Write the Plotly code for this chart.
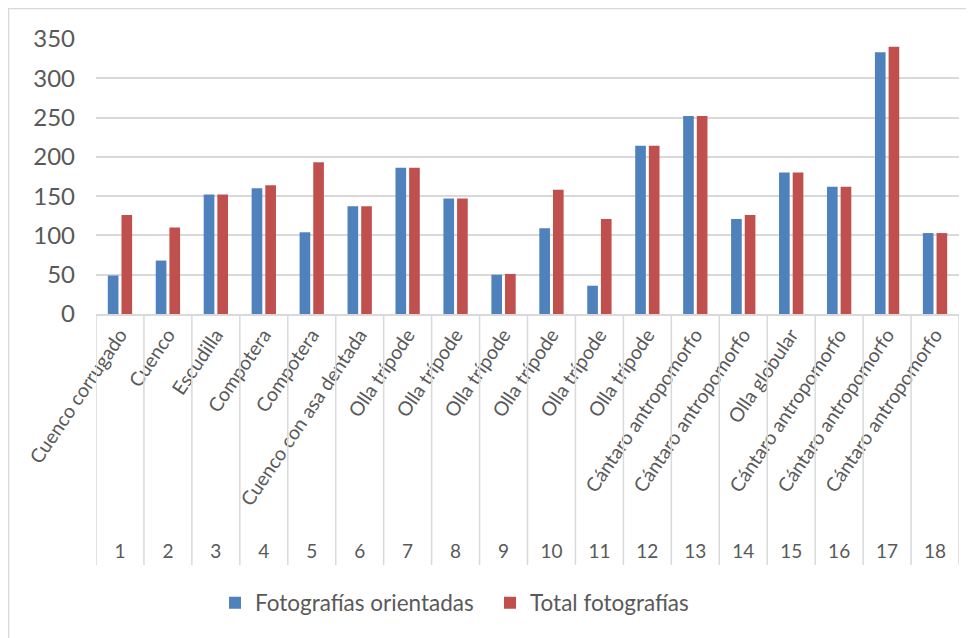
import plotly.graph_objects as go

# data
numeros = [str(i) for i in range(1, 19)]
piezas = [
    "Cuenco corrugado", "Cuenco", "Escudilla", "Compotera", "Compotera",
    "Cuenco con asa dentada", "Olla trípode", "Olla trípode", "Olla trípode",
    "Olla trípode", "Olla trípode", "Olla trípode", "Cántaro antropomorfo",
    "Cántaro antropomorfo", "Olla globular", "Cántaro antropomorfo",
    "Cántaro antropomorfo", "Cántaro antropomorfo",
]
orientadas = [49, 68, 152, 160, 104, 137, 186, 147, 50, 109, 36, 214, 252, 121, 180, 162, 333, 103]
total = [126, 110, 152, 164, 193, 137, 186, 147, 51, 158, 121, 214, 252, 126, 180, 162, 340, 103]

# the page body adds an 8px offset, so the figure is sized/laid out in figure pixels
W, H = 966, 630
L, R, T, B = 88, 15, 31, 73          # paper spans the plot + the category cells
AXIS_Y = 306                          # pixel row of the value-axis zero line
pw, ph = W - L - R, H - T - B


def px_x(x):
    return (x - L) / pw


def px_y(y):
    return (H - B - y) / ph


dom_low = px_y(AXIS_Y)
gris = "#d9d9d9"
texto = "#595959"
fuente = "Lato"

fig = go.Figure()
fig.add_trace(go.Bar(x=numeros, y=orientadas, name="Fotografías orientadas",
                     marker=dict(color="#4f81bd", line=dict(width=0))))
fig.add_trace(go.Bar(x=numeros, y=total, name="Total fotografías",
                     marker=dict(color="#c0504d", line=dict(width=0))))
# invisible trace so the second category axis carries the numbers
fig.add_trace(go.Scatter(x=numeros, y=[0] * len(numeros), xaxis="x2", mode="markers",
                         marker=dict(opacity=0), showlegend=False, hoverinfo="skip"))

# cell separators below the axis, one per category boundary
shapes = []
for k in range(len(numeros) + 1):
    shapes.append(dict(type="line", xref="x", yref="paper", x0=k - 0.5, x1=k - 0.5,
                       y0=0, y1=dom_low, line=dict(color=gris, width=1.5)))
# chart frame
shapes.append(dict(type="rect", xref="paper", yref="paper",
                   x0=px_x(0.7), x1=px_x(990), y0=px_y(0.7), y1=px_y(660),
                   line=dict(color=gris, width=1.3), layer="below"))

fig.update_layout(
    width=W, height=H,
    margin=dict(l=L, r=R, t=T, b=B, autoexpand=False),
    paper_bgcolor="white", plot_bgcolor="white",
    font=dict(family=fuente, color=texto),
    barmode="group", bargap=0.43, bargroupgap=0.22,
    shapes=shapes,
    xaxis=dict(type="category", categoryorder="array", categoryarray=numeros,
               tickvals=numeros, ticktext=piezas, tickangle=-56,
               tickfont=dict(size=19.5, color=texto), automargin=False,
               showline=True, linecolor=gris, linewidth=1.5,
               ticks="", showgrid=False, range=[-0.5, len(numeros) - 0.5]),
    xaxis2=dict(type="category", categoryorder="array", categoryarray=numeros,
                overlaying="x", anchor="free", position=0, side="bottom",
                ticklabelposition="inside", ticks="", showline=False, showgrid=False,
                automargin=False,
                tickfont=dict(size=19, color=texto), range=[-0.5, len(numeros) - 0.5]),
    yaxis=dict(domain=[dom_low, 1], range=[0, 350], dtick=50, automargin=False,
               showgrid=True, gridcolor=gris, gridwidth=1.5,
               zeroline=False, showline=False, ticks="",
               tickfont=dict(size=24, color=texto), ticklabelstandoff=20),
    legend=dict(orientation="h", xref="container", yref="container",
                x=207 / W, xanchor="left", y=1 - 595 / H, yanchor="middle",
                font=dict(size=22.5, color=texto), itemwidth=30,
                entrywidth=230),
)

fig.write_html("out.html")
